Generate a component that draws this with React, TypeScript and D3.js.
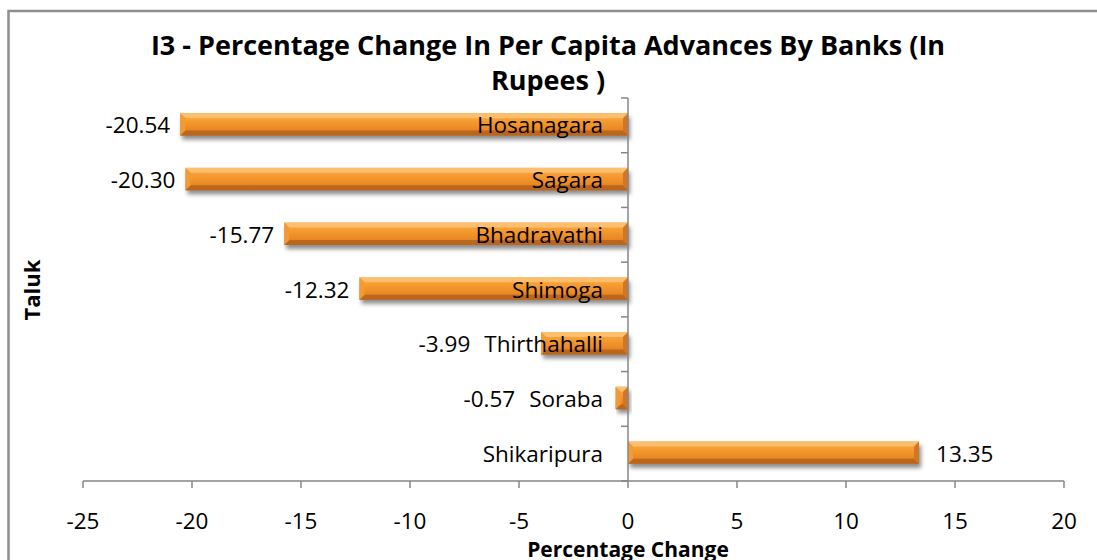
import React from "react";
import * as d3 from "d3";

const categories = ["Hosanagara", "Sagara", "Bhadravathi", "Shimoga", "Thirthahalli", "Soraba", "Shikaripura"];
const values = [-20.54, -20.3, -15.77, -12.32, -3.99, -0.57, 13.35];
const xTicks = [-25, -20, -15, -10, -5, 0, 5, 10, 15, 20];
const titleLines = ["I3 - Percentage Change In Per Capita Advances By Banks (In", "Rupees )"];
const xTitle = "Percentage Change";
const yTitle = "Taluk";

const W = 1097;
const H = 560;
const FONT = "'Open Sans', 'DejaVu Sans', sans-serif";
const LABEL_SIZE = 22.5;

function textWidth(text: string, size: number, weight = "normal") {
  if (typeof document === "undefined") return text.length * size * 0.55;
  const c = document.createElement("canvas");
  const ctx = c.getContext("2d");
  if (!ctx) return text.length * size * 0.55;
  ctx.font = `${weight} ${size}px 'Open Sans'`;
  return ctx.measureText(text).width;
}

export default function App() {
  const x = d3.scaleLinear().domain([-25, 20]).range([83, 1064]);
  const y = d3
    .scaleBand<string>()
    .domain(categories)
    .range([98, 481])
    .paddingInner(0.59)
    .paddingOuter(0.295);
  const step = y.step();
  const bh = y.bandwidth();
  const x0 = x(0);
  const axisY = 481;
  const gray = "#868686";
  const b = 5;

  return (
    <svg
      width={W}
      height={H}
      style={{ position: "absolute", left: 0, top: 0, background: "#fff" }}
      fontFamily={FONT}
    >
      <defs>
        <linearGradient id="barGrad" x1="0" y1="0" x2="0" y2="1">
          <stop offset="0" stopColor="#F9AE50" />
          <stop offset="0.35" stopColor="#F59B30" />
          <stop offset="0.7" stopColor="#EB8A24" />
          <stop offset="1" stopColor="#CF7322" />
        </linearGradient>
        <filter id="shadow" x="-10%" y="-50%" width="120%" height="200%">
          <feGaussianBlur stdDeviation="2" />
        </filter>
      </defs>
      <rect x={0} y={0} width={W} height={H} fill="#fff" />
      <rect x={8.5} y={11} width={W + 10} height={H + 10} fill="none" stroke="#8f8f8f" strokeWidth={2.5} />

      {titleLines.map((t, i) => (
        <text
          key={i}
          x={548}
          y={55 + i * 35}
          textAnchor="middle"
          fontSize={27}
          fontWeight="bold"
          fill="#000"
        >
          {t}
        </text>
      ))}

      {/* x axis */}
      <line x1={x(-25)} x2={x(20)} y1={axisY} y2={axisY} stroke={gray} strokeWidth={1.5} />
      {xTicks.map((t) => (
        <g key={t}>
          <line x1={x(t)} x2={x(t)} y1={axisY} y2={axisY + 7} stroke={gray} strokeWidth={1.5} />
          <text x={x(t)} y={529} textAnchor="middle" fontSize={LABEL_SIZE} fill="#000">
            {t}
          </text>
        </g>
      ))}
      <text x={x0} y={557} textAnchor="middle" fontSize={21} fontWeight="bold" fill="#000">
        {xTitle}
      </text>
      <text
        transform={`translate(40, 290) rotate(-90)`}
        textAnchor="middle"
        fontSize={22}
        fontWeight="bold"
        fill="#000"
      >
        {yTitle}
      </text>

      {/* bars */}
      {categories.map((c, i) => {
        const v = values[i];
        const xa = Math.min(x(v), x0);
        const xb = Math.max(x(v), x0);
        const w = xb - xa;
        const top = (y(c) as number) - 1;
        const bot = top + bh;
        const bb = Math.min(b, w / 2);
        return (
          <g key={c}>
            <rect x={xa + 2} y={top + 4} width={w} height={bh} fill="rgba(0,0,0,0.45)" filter="url(#shadow)" />
            <rect x={xa} y={top} width={w} height={bh} fill="url(#barGrad)" />
            <polygon
              points={`${xa},${top} ${xb},${top} ${xb - bb},${top + bb} ${xa + bb},${top + bb}`}
              fill="#FCC070"
              opacity={0.95}
            />
            <polygon
              points={`${xa},${bot} ${xb},${bot} ${xb - bb},${bot - bb} ${xa + bb},${bot - bb}`}
              fill="#B9651F"
              opacity={0.95}
            />
            <polygon
              points={`${xa},${top} ${xa + bb},${top + bb} ${xa + bb},${bot - bb} ${xa},${bot}`}
              fill="#F29A38"
            />
            <polygon
              points={`${xb},${top} ${xb - bb},${top + bb} ${xb - bb},${bot - bb} ${xb},${bot}`}
              fill="#D27624"
            />
          </g>
        );
      })}

      {/* y axis */}
      <line x1={x0} x2={x0} y1={98} y2={axisY} stroke={gray} strokeWidth={1.5} />
      {d3.range(categories.length + 1).map((k) => (
        <line
          key={k}
          x1={x0 - 7}
          x2={x0}
          y1={98 + k * step}
          y2={98 + k * step}
          stroke={gray}
          strokeWidth={1.5}
        />
      ))}

      {/* category labels */}
      {categories.map((c) => (
        <text
          key={c}
          x={x0 - 25}
          y={(y(c) as number) + bh / 2}
          dy="0.36em"
          textAnchor="end"
          fontSize={LABEL_SIZE}
          fill="#000"
        >
          {c}
        </text>
      ))}

      {/* value labels */}
      {categories.map((c, i) => {
        const v = values[i];
        const cy = (y(c) as number) + bh / 2;
        const label = v.toFixed(2);
        if (v >= 0) {
          return (
            <text key={c} x={x(v) + 17} y={cy} dy="0.36em" textAnchor="start" fontSize={LABEL_SIZE} fill="#000">
              {label}
            </text>
          );
        }
        const catLeft = x0 - 25 - textWidth(c, LABEL_SIZE);
        const right = Math.min(x(v) - 10, catLeft - 14);
        return (
          <text key={c} x={right} y={cy} dy="0.36em" textAnchor="end" fontSize={LABEL_SIZE} fill="#000">
            {label}
          </text>
        );
      })}
    </svg>
  );
}
